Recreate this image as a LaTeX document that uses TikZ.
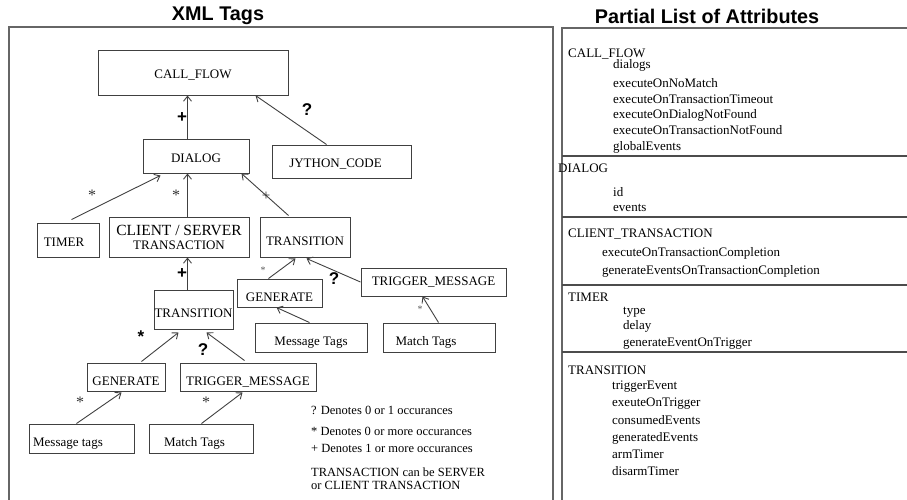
\documentclass[tikz,border=0pt]{standalone}
\usepackage{fontspec}
\setmainfont{Liberation Serif}
\setsansfont{Liberation Sans}
\usetikzlibrary{arrows.meta,calc}
\newcommand{\fsz}[1]{\fontsize{#1}{#1}\selectfont}
\begin{document}
\begin{tikzpicture}[x=1pt,y=-1pt,
  box/.style={draw=black!75, line width=1pt, rectangle, inner sep=0pt, font=\fsz{13}},
  low/.style={text height=16.5pt, text depth=0pt},
  mid/.style={text height=12pt, text depth=0pt},
  conn/.style={draw=black!75, line width=0.9pt, -{Straight Barb[length=5pt,width=8pt]}},
  frame/.style={draw=black!60, line width=1.4pt},
  sep/.style={draw=black!70, line width=1.1pt},
  title/.style={font=\sffamily\bfseries\fsz{19.8}, inner sep=0pt},
  bmark/.style={font=\sffamily\bfseries\fsz{17}, inner sep=0pt},
  smark/.style={font=\fsz{16}, inner sep=0pt, text=black!80},
  tmark/.style={font=\fsz{10}, inner sep=0pt, text=black!65},
  attr/.style={anchor=base west, font=\fsz{13}, inner sep=0pt},
  legend/.style={anchor=base west, font=\fsz{12.5}, inner sep=0pt}
]
\useasboundingbox (0,0) rectangle (907,499);
\clip (0,0) rectangle (907,499);

% titles
\node[title] (t1) at (218,16) {XML Tags};
\node[title] (t2) at (707,16) {Partial List of Attributes};

% frames
\draw[frame] (9,520) -- (9,27) -- (553,27) -- (553,520);
\draw[frame] (562,520) -- (562,28) -- (920,28);

% left: tag tree
\node[box, mid, minimum width=190pt, minimum height=45pt] (callflow) at (193,72.5) {CALL\_FLOW};
\node[box, mid, minimum width=106pt, minimum height=34pt] (dialog) at (196,156) {DIALOG};
\node[box, mid, minimum width=139pt, minimum height=33pt] (jython) at (341.5,161.5) {\hspace*{-12pt}JYTHON\_CODE};
\node[box, mid, minimum width=62pt, minimum height=34pt] (timer) at (68,240) {\hspace*{-8pt}TIMER};
\node[box, minimum width=140pt, minimum height=40pt, align=center] (client) at (179,237)
  {{\fsz{15.5}CLIENT / SERVER}\\[1pt]TRANSACTION};
\node[box, low, minimum width=90pt, minimum height=40pt] (trans1) at (305,237) {TRANSITION};
\node[box, low, minimum width=79pt, minimum height=39pt] (trans2) at (193.5,309.5) {TRANSITION};
\node[box, low, minimum width=85pt, minimum height=28pt] (gen1) at (279.5,293) {GENERATE};
\node[box, text height=7pt, text depth=0pt, minimum width=145pt, minimum height=28pt] (trig1) at (433.5,282) {TRIGGER\_MESSAGE};
\node[box, low, minimum width=112pt, minimum height=29pt] (msg1) at (311,337.5) {Message Tags};
\node[box, low, minimum width=112pt, minimum height=29pt] (mat1) at (439,337.5) {\hspace*{-26pt}Match Tags};
\node[box, low, minimum width=78pt, minimum height=28pt] (gen2) at (126,377) {GENERATE};
\node[box, low, minimum width=136pt, minimum height=28pt] (trig2) at (248,377) {TRIGGER\_MESSAGE};
\node[box, low, minimum width=105pt, minimum height=29pt] (msg2) at (81.5,438.5) {\hspace*{-27pt}Message tags};
\node[box, low, minimum width=104pt, minimum height=29pt] (mat2) at (201,438.5) {\hspace*{-13pt}Match Tags};

% connectors
\draw[conn] ([xshift=45pt]dialog.north west) -- ([xshift=90pt]callflow.south west);
\draw[conn] ([xshift=55pt]jython.north west) -- ([xshift=158pt]callflow.south west);
\draw[conn] ([xshift=35pt,yshift=3pt]timer.north west) -- ([xshift=18pt,yshift=-2pt]dialog.south west);
\draw[conn] ([xshift=79pt]client.north west) -- ([xshift=45pt]dialog.south west);
\draw[conn] ([xshift=29pt,yshift=1pt]trans1.north west) -- ([xshift=99pt]dialog.south west);
\draw[conn] ([xshift=34pt]trans2.north west) -- ([xshift=79pt]client.south west);
\draw[conn] ([xshift=32pt]gen1.north west) -- ([xshift=36pt,yshift=-1pt]trans1.south west);
\draw[conn] (trig1.west) -- ([xshift=47pt,yshift=-1pt]trans1.south west);
\draw[conn] ([xshift=55pt]msg1.north west) -- ([xshift=40pt]gen1.south west);
\draw[conn] ([xshift=56pt]mat1.north west) -- ([xshift=62pt]trig1.south west);
\draw[conn] ([xshift=55pt,yshift=1pt]gen2.north west) -- ([xshift=25pt,yshift=-3pt]trans2.south west);
\draw[conn] ([xshift=65pt,yshift=2pt]trig2.north west) -- ([xshift=53pt,yshift=-3pt]trans2.south west);
\draw[conn] ([xshift=48pt]msg2.north west) -- ([xshift=35pt,yshift=-1pt]gen2.south west);
\draw[conn] ([xshift=53pt]mat2.north west) -- ([xshift=63pt,yshift=-1pt]trig2.south west);

% multiplicity marks
\node[bmark] (m1) at (182,118) {+};
\node[bmark] (m2) at (307,110) {?};
\node[smark] (m3) at (92,195) {*};
\node[smark] (m4) at (176,195) {*};
\node[font=\fsz{15}, inner sep=0pt, text=black!80] (m5) at (266,196) {+};
\node[bmark] (m6) at (182,274) {+};
\node[tmark] (m7) at (263,270) {*};
\node[bmark] (m8) at (334,279) {?};
\node[tmark] (m9) at (420,309) {*};
\node[bmark] (m10) at (141,337) {*};
\node[bmark] (m11) at (203,350) {?};
\node[smark] (m12) at (80,402) {*};
\node[smark] (m13) at (206,402) {*};

% legend
\node[legend] (l1) at (311,414.5) {? Denotes 0 or 1 occurances};
\node[legend] (l2) at (311,435.5) {* Denotes 0 or more occurances};
\node[legend] (l3) at (311,452) {+ Denotes 1 or more occurances};
\node[legend] (l4) at (311,476) {TRANSACTION can be SERVER};
\node[legend] (l5) at (311,489.5) {or CLIENT TRANSACTION};

% right: attribute list
\draw[sep] (562,156) -- (907,156);
\draw[sep] (562,217) -- (907,217);
\draw[sep] (562,285) -- (907,285);
\draw[sep] (562,352) -- (907,352);

\node[attr] (a1) at (568,57) {CALL\_FLOW};
\node[attr] (a2) at (613,68.5) {dialogs};
\node[attr] (a3) at (613,87) {executeOnNoMatch};
\node[attr] (a4) at (613,103) {executeOnTransactionTimeout};
\node[attr] (a5) at (613,118.5) {executeOnDialogNotFound};
\node[attr] (a6) at (613,134) {executeOnTransactionNotFound};
\node[attr] (a7) at (613,150) {globalEvents};

\node[attr] (b1) at (558,172) {DIALOG};
\node[attr] (b2) at (613,196) {id};
\node[attr] (b3) at (613,211.5) {events};

\node[attr] (c1) at (568,237) {CLIENT\_TRANSACTION};
\node[attr] (c2) at (602,256) {executeOnTransactionCompletion};
\node[attr] (c3) at (602,274) {generateEventsOnTransactionCompletion};

\node[attr] (d1) at (568,301) {TIMER};
\node[attr] (d2) at (623,314) {type};
\node[attr] (d3) at (623,329) {delay};
\node[attr] (d4) at (623,346) {generateEventOnTrigger};

\node[attr] (e1) at (568,374) {TRANSITION};
\node[attr] (e2) at (612,389) {triggerEvent};
\node[attr] (e3) at (612,406) {exeuteOnTrigger};
\node[attr] (e4) at (612,424) {consumedEvents};
\node[attr] (e5) at (612,441) {generatedEvents};
\node[attr] (e6) at (612,458) {armTimer};
\node[attr] (e7) at (612,475) {disarmTimer};
\end{tikzpicture}
\end{document}
